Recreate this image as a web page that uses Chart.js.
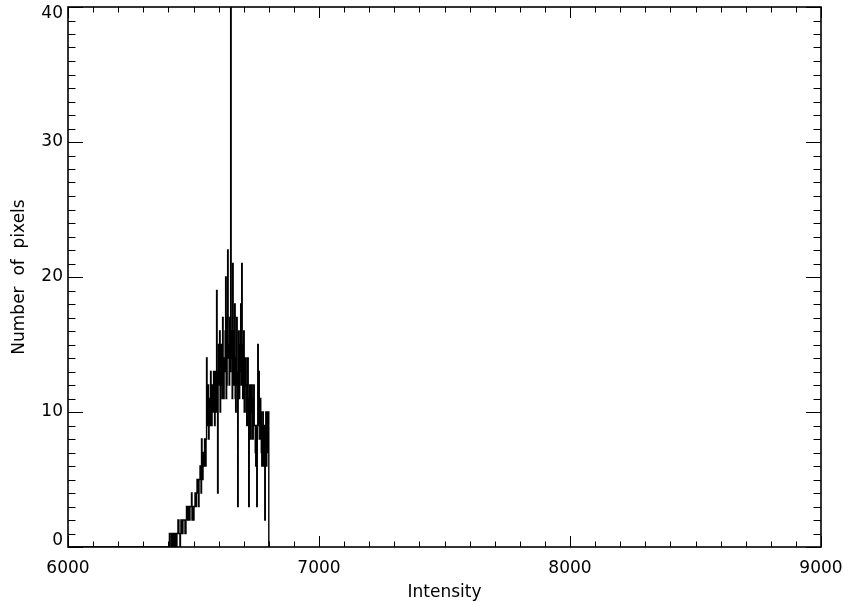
<!DOCTYPE html>
<html>
<head>
<meta charset="utf-8">
<script src="https://cdn.jsdelivr.net/npm/chart.js@4/dist/chart.umd.min.js"></script>
<style>
  html, body { margin: 0; padding: 0; background: #fff; }
  #wrap { width: 844px; height: 603px; }
</style>
</head>
<body>
<div id="wrap"><canvas id="c" width="844" height="603"></canvas></div>
<script>
// ---- data ----
const rangeStart = 6000;          // histogram baseline starts here (zero counts)
const binStart = 6400;            // first non-empty region
const binWidth = 2;               // intensity units per bin
const counts = [
  0,0, 1,0, 0,0, 1,1, 0,1, 0,0,
  1,0, 1,1, 0,1, 1,2, 2,1, 1,0, 1,2,
  2,1, 1,2, 2,2, 2,1, 1,2,
  3,2, 2,3, 3,2, 2,3, 3,3, 4,2, 3,3, 2,3, 3,4, 4,3,
  4,5, 5,4, 3,5, 5,6, 6,4,
  8,5, 5,7, 7,6, 8,7, 6,8,
  14,9, 10,12, 8,11,
  11,9, 13,10, 9,12, 12,10, 13,11, 9,13, 12,10,
  19,11, 4,13, 15,12,
  16,10, 12,15, 14,11, 17,12, 11,14,
  13,16, 20,11, 12,17, 22,14, 15,12,
  17,13, 45,16, 14,11,
  21,13, 12,16, 18,11, 10,14, 17,12, 3,13, 16,11,
  13,15, 18,12, 21,14, 11,15,
  16,10, 12,14, 14,10, 9,12,
  14,9, 3,11, 12,8,
  10,12, 12,8, 8,11, 12,9,
  9,7, 6,9, 3,8,
  15,9, 13,10,
  8,11, 10,7, 6,9,
  10,6, 7,9, 2,7,
  10,6, 7,10, 7,10
];
const xTickLabels = ['6000', '7000', '8000', '9000'];
const yTickLabels = ['0', '10', '20', '30', '40'];
const xTitle = 'Intensity';
const yTitle = 'Number  of  pixels';

// ---- build points for the step line ----
const points = [{x: rangeStart, y: 0}];
counts.forEach((c, i) => points.push({x: binStart + i * binWidth, y: c}));
points.push({x: binStart + counts.length * binWidth, y: 0});

const xMin = 6000, xMax = 9000, xMajor = 1000, xMinor = 100;
const yMin = 0, yMax = 40, yMajor = 10, yMinor = 1;

const frameTicks = {
  id: 'frameTicks',
  beforeDraw(chart) {
    const ctx = chart.ctx;
    ctx.save();
    ctx.fillStyle = '#fff';
    ctx.fillRect(0, 0, chart.width, chart.height);
    ctx.restore();
  },
  afterDatasetsDraw(chart) {
    const {ctx, chartArea: a, scales: {x, y}} = chart;
    ctx.save();
    ctx.strokeStyle = '#000';
    ctx.lineWidth = 1;
    ctx.beginPath();
    for (let v = xMin; v <= xMax; v += xMinor) {
      const p = Math.round(x.getPixelForValue(v)) + 0.5;
      const L = (v % xMajor === 0) ? 11 : 5.5;
      ctx.moveTo(p, a.bottom); ctx.lineTo(p, a.bottom - L);
      ctx.moveTo(p, a.top); ctx.lineTo(p, a.top + L);
    }
    for (let v = yMin; v <= yMax; v += yMinor) {
      const p = Math.round(y.getPixelForValue(v)) + 0.5;
      const L = (v % yMajor === 0) ? 15 : 7.5;
      ctx.moveTo(a.left, p); ctx.lineTo(a.left + L, p);
      ctx.moveTo(a.right, p); ctx.lineTo(a.right - L, p);
    }
    ctx.stroke();
    ctx.lineWidth = 1.6;
    ctx.strokeRect(a.left, a.top, a.right - a.left, a.bottom - a.top);
    ctx.restore();
  }
};

Chart.defaults.font.family = "'DejaVu Sans', sans-serif";
Chart.defaults.font.size = 17;
Chart.defaults.color = '#000';

new Chart(document.getElementById('c'), {
  type: 'line',
  data: {
    datasets: [{
      data: points,
      stepped: 'before',
      borderColor: '#000',
      borderWidth: 1.4,
      pointRadius: 0,
      fill: false,
      tension: 0
    }]
  },
  options: {
    responsive: false,
    animation: false,
    devicePixelRatio: 1,
    layout: { padding: { top: 7, right: 23, left: 0, bottom: 0 } },
    plugins: { legend: { display: false }, tooltip: { enabled: false } },
    scales: {
      x: {
        type: 'linear',
        min: xMin, max: xMax,
        grid: { display: false, drawTicks: false },
        border: { display: false },
        ticks: {
          stepSize: xMajor,
          padding: 11,
          maxRotation: 0,
          callback: (v) => xTickLabels[Math.round((v - xMin) / xMajor)] ?? ''
        },
        title: { display: true, text: xTitle, padding: { top: 0, bottom: 0 } },
        afterFit(s) { s.height = 56; s.paddingLeft = 0; s.paddingRight = 0; }
      },
      y: {
        type: 'linear',
        min: yMin, max: yMax,
        grid: { display: false, drawTicks: false },
        border: { display: false },
        ticks: {
          stepSize: yMajor,
          padding: 5,
          font: { lineHeight: 0.8 },
          callback: (v) => {
            const k = Math.round((v - yMin) / yMajor);
            const t = yTickLabels[k] ?? '';
            if (k === 0) return [t, ''];
            if (k === yTickLabels.length - 1) return ['', t];
            return t;
          }
        },
        title: { display: true, text: yTitle, padding: { top: 9, bottom: 0 } },
        afterFit(s) { s.width = 68; s.paddingTop = 0; s.paddingBottom = 0; }
      }
    }
  },
  plugins: [frameTicks]
});
</script>
</body>
</html>
